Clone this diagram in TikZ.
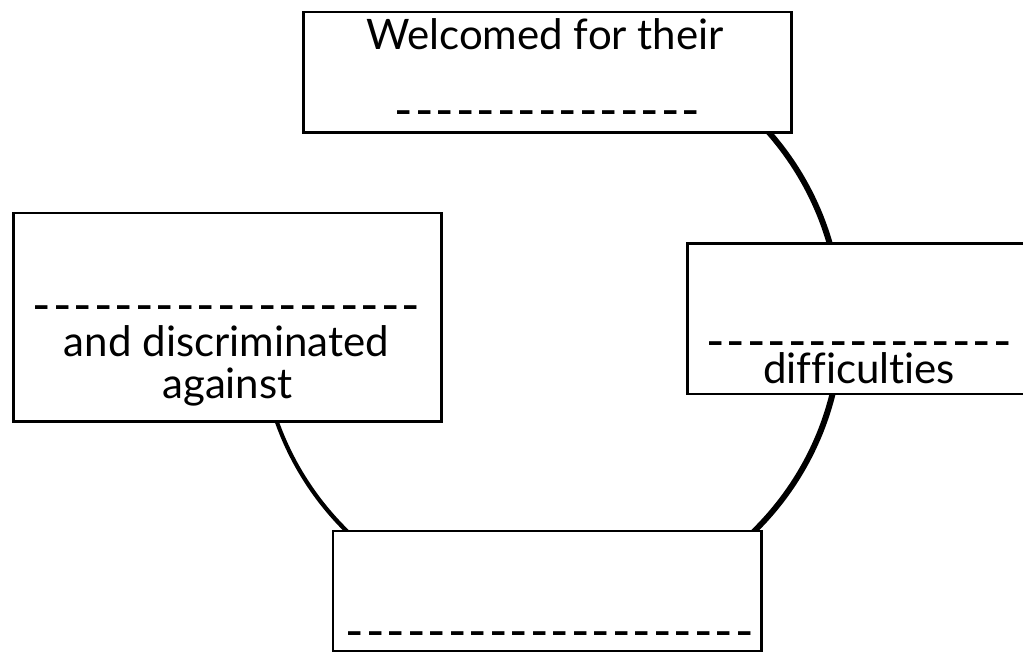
\documentclass[tikz,border=0pt]{standalone}
\usepackage{fontspec}
\usepackage{graphicx}
\setmainfont{Lato}[Ligatures=NoCommon]
\usetikzlibrary{positioning}
% one row of blanks to fill in
\newcommand{\gaprow}[1]{\foreach \k in {1,...,#1}{\makebox[20.5pt][c]{\scalebox{0.75}[1.5]{\_}}}}

\begin{document}
\begin{tikzpicture}[x=1pt, y=-1pt,
  box/.style={draw=black, fill=white, line width=2.7pt, inner sep=0pt},
  txt/.style={inner sep=0pt, anchor=base, font=\fontsize{42}{50}\selectfont}]
\useasboundingbox (0,0) rectangle (1023,652);
% the cycle behind the boxes, open between the left and top boxes
\begin{scope}
  \clip (550,324) -- ++(225:340) arc[start angle=225, end angle=555, radius=340] -- cycle;
  \fill[even odd rule] (551,324) circle[radius=293] (550,324) circle[radius=288];
\end{scope}
\node[box, minimum width=488, minimum height=120.5] (welcomed) at (547.5,72.25) {};
\node[box, minimum width=428, minimum height=208.5] (excluded) at (227.5,317.25) {};
\node[box, minimum width=343, minimum height=150.5] (hardship) at (859,318.75) {};
\node[box, minimum width=428.5, minimum height=120] (outcome) at (547.25,591) {};
% texts
\node[txt] (welcomedA) at (545,50) {Welcomed for their};
\node[txt] (welcomedB) at (547.5,106) {\gaprow{15}};
\node[txt] (excludedA) at (226.5,301) {\gaprow{19}};
\node[txt] (excludedB) at (226.5,356) {and discriminated};
\node[txt] (excludedC) at (227.5,399) {against};
\node[txt] (hardshipA) at (859,337) {\gaprow{15}};
\node[txt] (hardshipB) at (859,383) {difficulties};
\node[txt] (outcomeA) at (549.5,626) {\gaprow{20}};
\end{tikzpicture}
\end{document}
